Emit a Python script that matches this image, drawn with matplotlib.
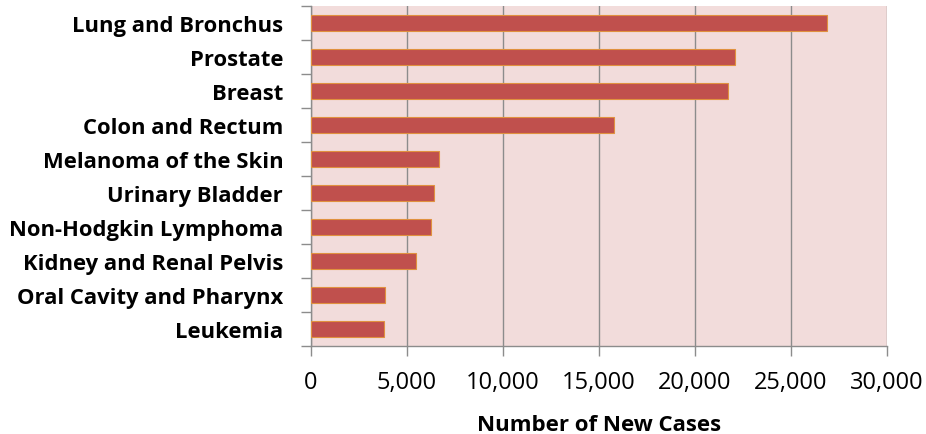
import matplotlib.pyplot as plt
from matplotlib.ticker import FuncFormatter, FixedLocator
import numpy as np

sites = ["Lung and Bronchus", "Prostate", "Breast", "Colon and Rectum",
         "Melanoma of the Skin", "Urinary Bladder", "Non-Hodgkin Lymphoma",
         "Kidney and Renal Pelvis", "Oral Cavity and Pharynx", "Leukemia"]
new_cases = [26900, 22100, 21700, 15800, 6650, 6390, 6270, 5450, 3870, 3790]

fig = plt.figure(figsize=(9.26, 4.35), dpi=100)
ax = fig.add_axes([311 / 926, 1 - 347 / 435, 576 / 926, 340 / 435])
ax.set_facecolor("#F2DCDB")

y = np.arange(len(sites))
ax.barh(y, new_cases, height=0.45, color="#C0504D", edgecolor="#E0913F",
        linewidth=0.8, zorder=3)

ax.set_ylim(len(sites) - 0.5, -0.5)
ax.set_xlim(0, 30000)
ax.set_xticks(range(0, 30001, 5000))
ax.xaxis.set_major_formatter(FuncFormatter(lambda v, p: f"{int(v):,}"))
ax.grid(axis="x", color="#8C8C8C", linewidth=1.0, zorder=1)

ax.set_yticks(y)
ax.set_yticklabels(sites, fontsize=15.8, fontweight="bold", family="Open Sans")
ax.yaxis.set_minor_locator(FixedLocator(np.arange(-0.5, len(sites), 1)))
ax.tick_params(axis="y", which="major", length=0, pad=20)
ax.tick_params(axis="y", which="minor", length=7, color="#8C8C8C", width=1)
ax.tick_params(axis="x", length=7, color="#8C8C8C", width=1, labelsize=17, pad=10)
for lab in ax.get_xticklabels():
    lab.set_family("Open Sans")

for s in ["top", "right"]:
    ax.spines[s].set_visible(False)
for s in ["left", "bottom"]:
    ax.spines[s].set_color("#8C8C8C")
    ax.spines[s].set_linewidth(1)

ax.set_xlabel("Number of New Cases", fontsize=16, fontweight="bold",
              family="Open Sans", labelpad=15)

fig.savefig("out.png", dpi=100)
